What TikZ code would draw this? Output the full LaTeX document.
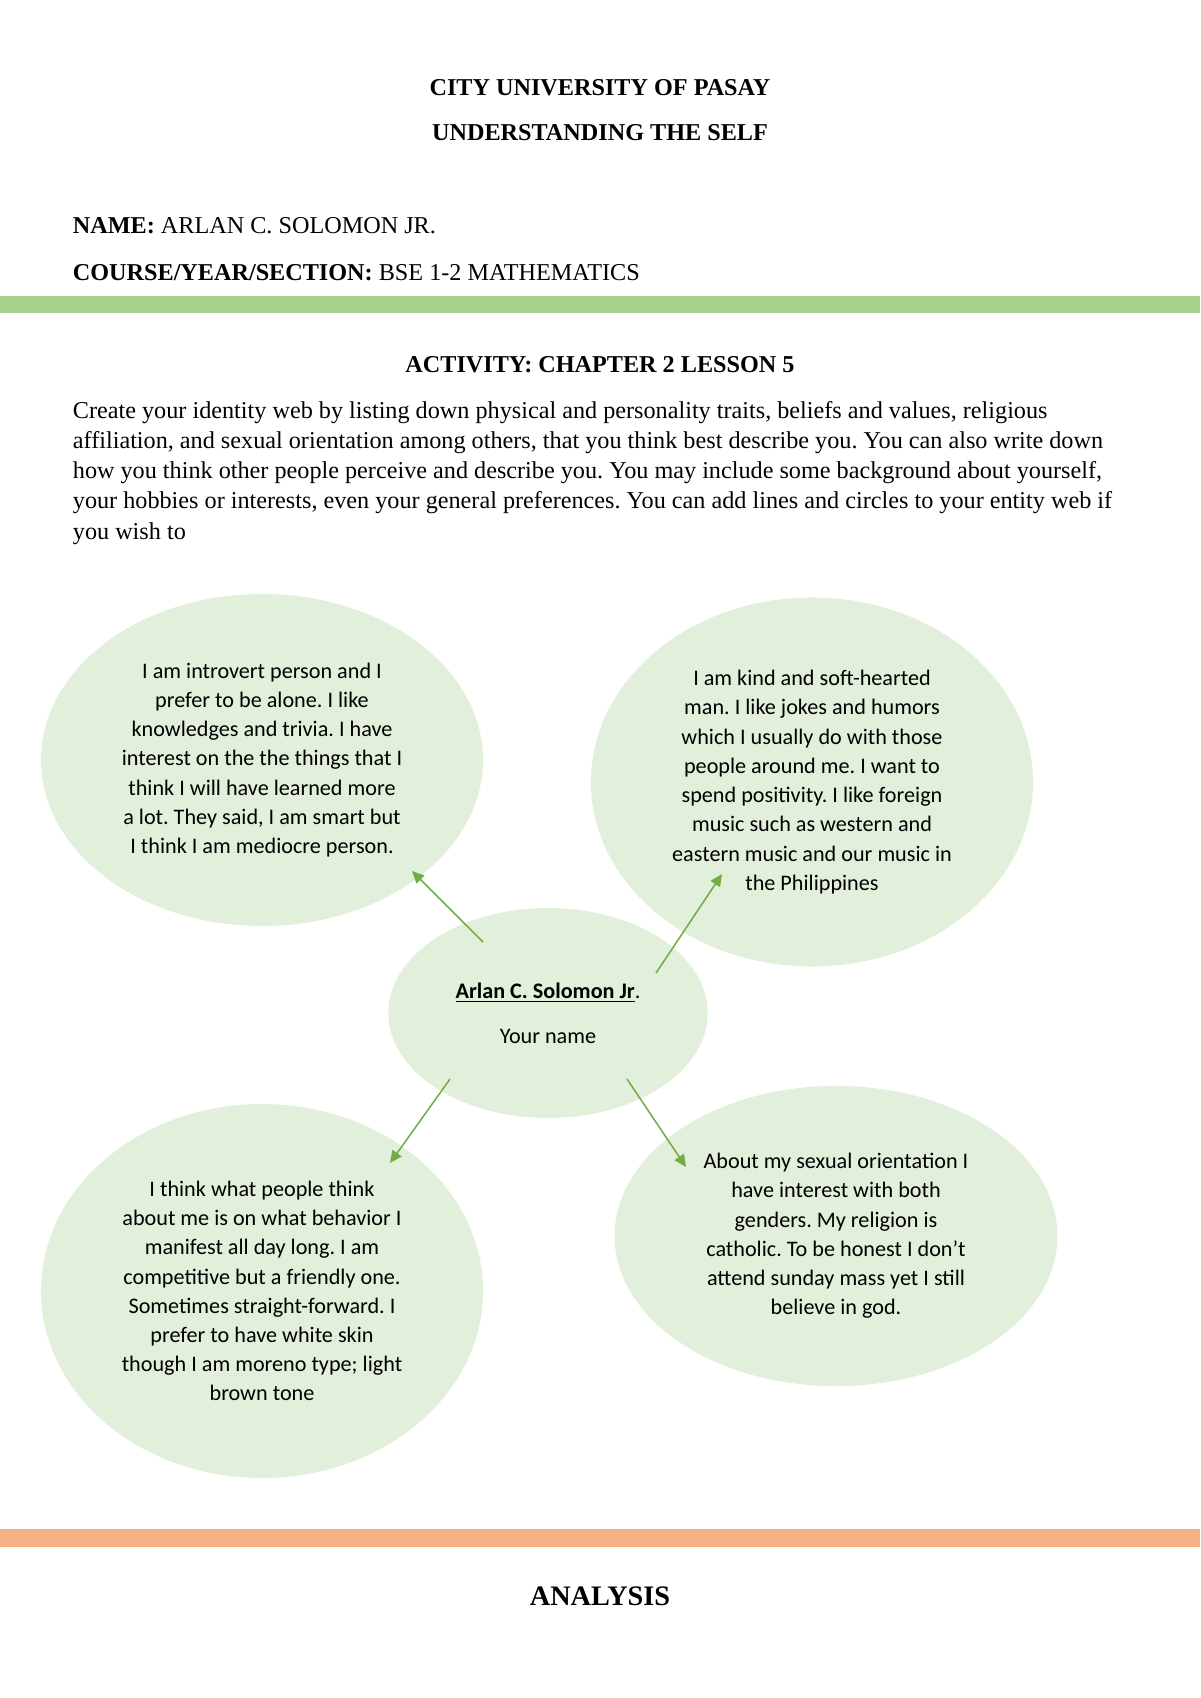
\documentclass[tikz,border=0pt]{standalone}
\usepackage{fontspec}
\setmainfont{Liberation Serif}
\newfontfamily\bubblefont{Carlito}
\usepackage{xcolor}
\usetikzlibrary{arrows.meta,shapes.geometric}
\definecolor{bubblegreen}{HTML}{E2EFDA}
\definecolor{linkgreen}{HTML}{70AD47}
\definecolor{bandgreen}{HTML}{A9D18E}
\definecolor{bandorange}{HTML}{F4B183}
\frenchspacing
\tikzset{%
	title/.style  = {anchor=base, inner sep=0pt, font=\fontsize{12}{15}\selectfont\bfseries},
	field/.style  = {anchor=base west, inner sep=0pt, font=\fontsize{12}{15}\selectfont},
	bubble/.style = {ellipse, fill=bubblegreen, inner sep=0pt, align=center, font=\bubblefont\fontsize{11}{14.5}\selectfont},
	link/.style   = {draw=linkgreen, line width=0.75pt, -{Triangle[length=6pt,width=5.5pt]}},
}

\begin{document}
\begin{tikzpicture}[x=0.49583pt,y=-0.49583pt]
	\useasboundingbox (0,0) rectangle (1200,1698);
	\fill[white] (0,0) rectangle (1200,1698);
	
	\node[title] (uni) at (600,96) {CITY UNIVERSITY OF PASAY};
	\node[title] (subj) at (600,141) {UNDERSTANDING THE SELF};
	\node[field] (name) at (72.5,233) {\textbf{NAME:} ARLAN C. SOLOMON JR.};
	\node[field] (course) at (72.5,280) {\textbf{COURSE/YEAR/SECTION:} BSE 1-2 MATHEMATICS};
	\fill[bandgreen] (0,296) rectangle (1200,313);
	
	\node[title] (act) at (600,372) {ACTIVITY: CHAPTER 2 LESSON 5};
	\node[field] (task) at (72.5,418) {\parbox[t]{560pt}{Create your identity web by listing down physical and personality traits, beliefs and values, religious\\
		affiliation, and sexual orientation among others, that you think best describe you. You can also write down\\
		how you think other people perceive and describe you. You may include some background about yourself,\\
		your hobbies or interests, even your general preferences. You can add lines and circles to your entity web if\\
		you wish to}};
	
	\node[bubble, minimum width=219.2pt, minimum height=164.6pt] (intro) at (262,760) {I am introvert person and I\\ prefer to be alone. I like\\ knowledges and trivia. I have\\ interest on the the things that I\\ think I will have learned more\\ a lot. They said, I am smart but\\ I think I am mediocre person.};
	\node[bubble, minimum width=219.2pt, minimum height=183pt] (kind) at (812,782) {I am kind and soft-hearted\\ man. I like jokes and humors\\ which I usually do with those\\ people around me. I want to\\ spend positivity. I like foreign\\ music such as western and\\ eastern music and our music in\\ the Philippines};
	\node[bubble, minimum width=158.4pt, minimum height=104.1pt] (me) at (548,1013) {\textbf{\underline{Arlan C. Solomon Jr}}.\\[8pt] Your name};
	\node[bubble, minimum width=219.2pt, minimum height=185.4pt] (others) at (262,1291) {I think what people think\\ about me is on what behavior I\\ manifest all day long. I am\\ competitive but a friendly one.\\ Sometimes straight-forward. I\\ prefer to have white skin\\ though I am moreno type; light\\ brown tone};
	\node[bubble, minimum width=219.6pt, minimum height=148.8pt] (faith) at (836,1236) {About my sexual orientation I\\ have interest with both\\ genders. My religion is\\ catholic. To be honest I don’t\\ attend sunday mass yet I still\\ believe in god.};
	
	\coordinate (s1) at (483,942);
	\coordinate (t1) at (412,871);
	\coordinate (s2) at (656,973);
	\coordinate (t2) at (722,874);
	\coordinate (s3) at (450,1079);
	\coordinate (t3) at (390,1163);
	\coordinate (s4) at (627,1079);
	\coordinate (t4) at (686,1167);
	\draw[link] (s1) -- (t1);
	\draw[link] (s2) -- (t2);
	\draw[link] (s3) -- (t3);
	\draw[link] (s4) -- (t4);
	
	\fill[bandorange] (0,1529) rectangle (1200,1547);
	\node[title, font=\fontsize{14}{17}\selectfont\bfseries] (ana) at (600,1605) {ANALYSIS};
\end{tikzpicture}
\end{document}
